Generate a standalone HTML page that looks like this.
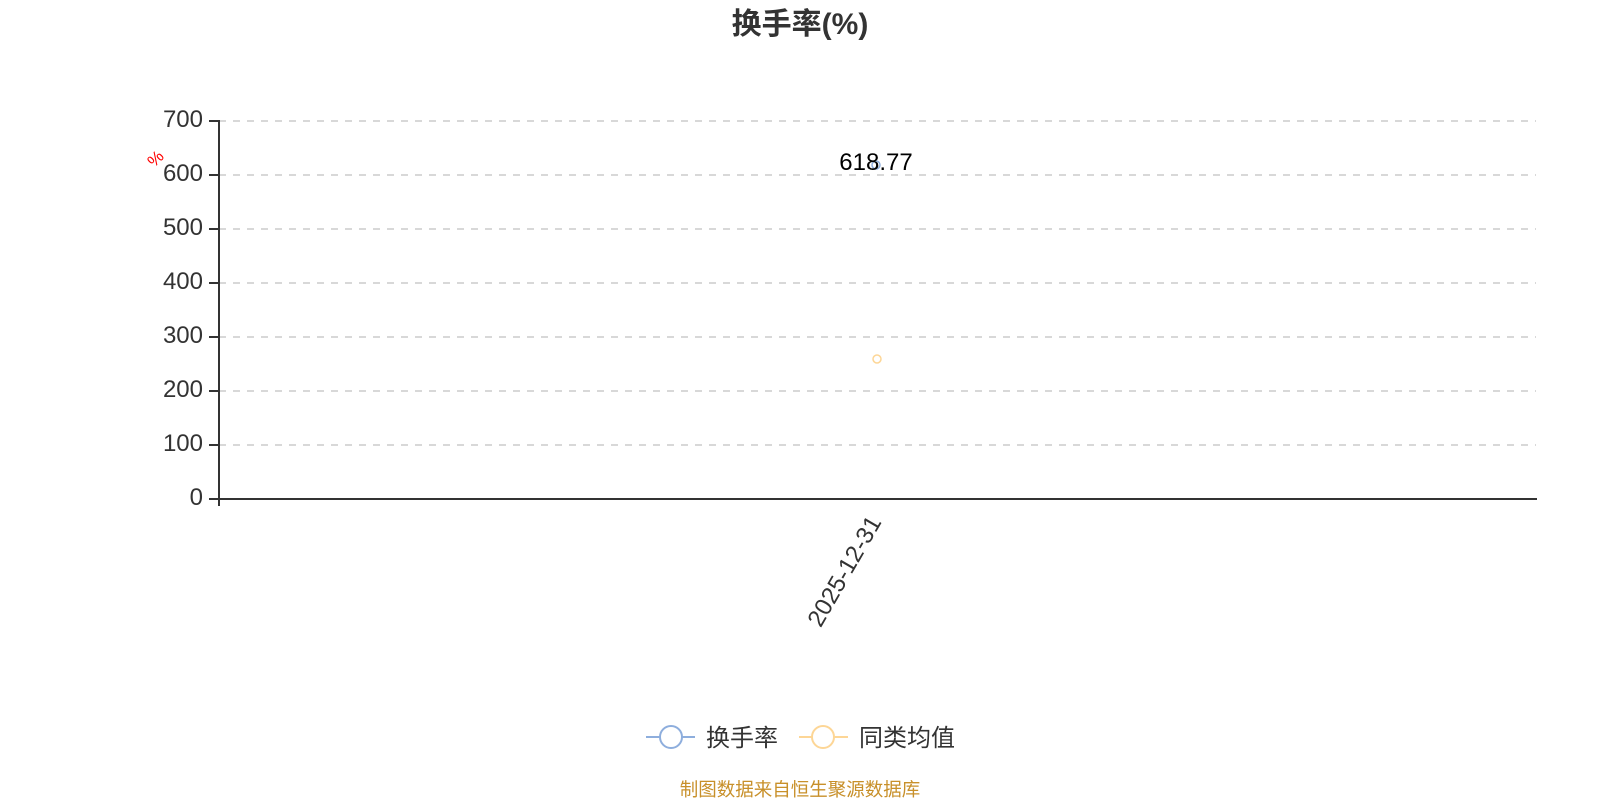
<!DOCTYPE html>
<html><head><meta charset="utf-8"><style>
body{margin:0;background:#fff;}
svg text{font-family:"Liberation Sans","Noto Sans CJK SC",sans-serif;}
</style></head><body>
<svg width="1600" height="800" xmlns="http://www.w3.org/2000/svg">
<text x="800" y="34" text-anchor="middle" font-size="30" font-weight="bold" fill="#333">换手率(%)</text>
<g stroke="#ccc" stroke-width="1.5" stroke-dasharray="7,7">
<line x1="219" y1="121" x2="1536" y2="121"/>
<line x1="219" y1="175" x2="1536" y2="175"/>
<line x1="219" y1="229" x2="1536" y2="229"/>
<line x1="219" y1="283" x2="1536" y2="283"/>
<line x1="219" y1="337" x2="1536" y2="337"/>
<line x1="219" y1="391" x2="1536" y2="391"/>
<line x1="219" y1="445" x2="1536" y2="445"/>
</g>
<g stroke="#333" stroke-width="2">
<line x1="219" y1="120" x2="219" y2="506"/>
<line x1="218" y1="499" x2="1537" y2="499"/>
<line x1="209" y1="121" x2="219" y2="121"/>
<line x1="209" y1="175" x2="219" y2="175"/>
<line x1="209" y1="229" x2="219" y2="229"/>
<line x1="209" y1="283" x2="219" y2="283"/>
<line x1="209" y1="337" x2="219" y2="337"/>
<line x1="209" y1="391" x2="219" y2="391"/>
<line x1="209" y1="445" x2="219" y2="445"/>
<line x1="209" y1="499" x2="219" y2="499"/>
</g>
<g font-size="24" fill="#333" text-anchor="end">
<text x="203" y="127">700</text>
<text x="203" y="181">600</text>
<text x="203" y="235">500</text>
<text x="203" y="289">400</text>
<text x="203" y="343">300</text>
<text x="203" y="397">200</text>
<text x="203" y="451">100</text>
<text x="203" y="505">0</text>
</g>
<text x="158" y="165" font-size="17" fill="red" text-anchor="middle" transform="rotate(-45 156 162)">%</text>
<text x="882" y="522" font-size="24" fill="#333" text-anchor="end" transform="rotate(-60 882 522)">2025-12-31</text>
<circle cx="876" cy="165" r="4" fill="#fff" stroke="#8eaedd" stroke-width="1.5"/>
<text x="876" y="170" font-size="24" fill="#000" text-anchor="middle">618.77</text>
<circle cx="877" cy="359" r="4" fill="#fff" stroke="#fdd696" stroke-width="1.5"/>
<line x1="646" y1="737" x2="695" y2="737" stroke="#8eaedd" stroke-width="2"/>
<circle cx="671" cy="737" r="11" fill="#fff" stroke="#8eaedd" stroke-width="2"/>
<text x="706" y="746" font-size="24" fill="#333">换手率</text>
<line x1="799" y1="737" x2="848" y2="737" stroke="#fdd696" stroke-width="2"/>
<circle cx="823" cy="737" r="11" fill="#fff" stroke="#fdd696" stroke-width="2"/>
<text x="859" y="746" font-size="24" fill="#333">同类均值</text>
<text x="800" y="796" font-size="18.5" fill="#c8902a" text-anchor="middle">制图数据来自恒生聚源数据库</text>
</svg>
</body></html>
